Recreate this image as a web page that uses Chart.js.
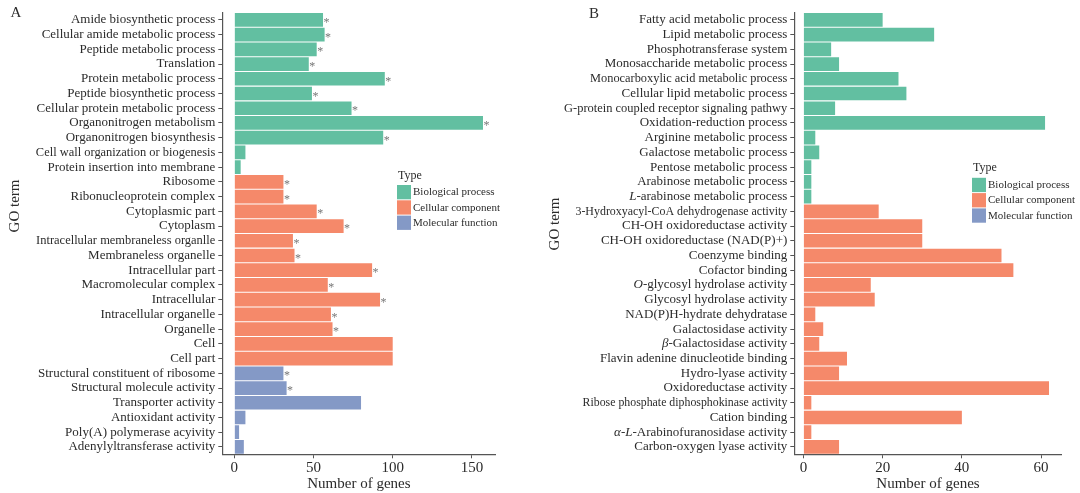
<!DOCTYPE html>
<html>
<head>
<meta charset="utf-8">
<script src="https://cdn.jsdelivr.net/npm/chart.js@4.4.1/dist/chart.umd.min.js"></script>
<style>
  html, body { margin: 0; padding: 0; background: #fff; }
  #wrap { position: relative; width: 1080px; height: 493px; }
  .panel { position: absolute; top: 0; width: 540px; height: 493px; }
  #panelA { left: 0; }
  #panelB { left: 540px; }
</style>
</head>
<body>
<div id="wrap">
  <div class="panel" id="panelA"><canvas id="chartA" width="540" height="493"></canvas></div>
  <div class="panel" id="panelB"><canvas id="chartB" width="540" height="493"></canvas></div>
</div>
<script>
// ---- data ----
const typeKeys = ['BP', 'CC', 'MF'];
const typeNames = ['Biological process', 'Cellular component', 'Molecular function'];

const termsA = [
  'Amide biosynthetic process', 'Cellular amide metabolic process', 'Peptide metabolic process',
  'Translation', 'Protein metabolic process', 'Peptide biosynthetic process',
  'Cellular protein metabolic process', 'Organonitrogen metabolism', 'Organonitrogen biosynthesis',
  'Cell wall organization or biogenesis', 'Protein insertion into membrane',
  'Ribosome', 'Ribonucleoprotein complex', 'Cytoplasmic part', 'Cytoplasm',
  'Intracellular membraneless organlle', 'Membraneless organelle', 'Intracellular part',
  'Macromolecular complex', 'Intracellular', 'Intracellular organelle', 'Organelle',
  'Cell', 'Cell part',
  'Structural constituent of ribosome', 'Structural molecule activity', 'Transporter activity',
  'Antioxidant activity', 'Poly(A) polymerase acyivity', 'Adenylyltransferase activity'
];
const countsA = [56, 57, 52, 47, 95, 49, 74, 157, 94, 7, 4,
  31, 31, 52, 69, 37, 38, 87, 59, 92, 61, 62, 100, 100,
  31, 33, 80, 7, 3, 6];
const typesA = ['BP', 'BP', 'BP', 'BP', 'BP', 'BP', 'BP', 'BP', 'BP', 'BP', 'BP',
  'CC', 'CC', 'CC', 'CC', 'CC', 'CC', 'CC', 'CC', 'CC', 'CC', 'CC', 'CC', 'CC',
  'MF', 'MF', 'MF', 'MF', 'MF', 'MF'];
const starsA = [1, 1, 1, 1, 1, 1, 1, 1, 1, 0, 0,
  1, 1, 1, 1, 1, 1, 1, 1, 1, 1, 1, 0, 0,
  1, 1, 0, 0, 0, 0];
const ticksA = [0, 50, 100, 150];

const termsB = [
  'Fatty acid metabolic process', 'Lipid metabolic process', 'Phosphotransferase system',
  'Monosaccharide metabolic process', 'Monocarboxylic acid metabolic process',
  'Cellular lipid metabolic process', 'G-protein coupled receptor signaling pathwy',
  'Oxidation-reduction process', 'Arginine metabolic process', 'Galactose metabolic process',
  'Pentose metabolic process', 'Arabinose metabolic process', 'L-arabinose metabolic process',
  '3-Hydroxyacyl-CoA dehydrogenase activity', 'CH-OH oxidoreductase activity',
  'CH-OH oxidoreductase (NAD(P)+)', 'Coenzyme binding', 'Cofactor binding',
  'O-glycosyl hydrolase activity', 'Glycosyl hydrolase activity', 'NAD(P)H-hydrate dehydratase',
  'Galactosidase activity', 'β-Galactosidase activity', 'Flavin adenine dinucleotide binding',
  'Hydro-lyase activity', 'Oxidoreductase activity', 'Ribose phosphate diphosphokinase activity',
  'Cation binding', 'α-L-Arabinofuranosidase activity', 'Carbon-oxygen lyase activity'
];
const countsB = [20, 33, 7, 9, 24, 26, 8, 61, 3, 4, 2, 2, 2,
  19, 30, 30, 50, 53, 17, 18, 3, 5, 4, 11, 9, 62, 2, 40, 2, 9];
const typesB = ['BP', 'BP', 'BP', 'BP', 'BP', 'BP', 'BP', 'BP', 'BP', 'BP', 'BP', 'BP', 'BP',
  'CC', 'CC', 'CC', 'CC', 'CC', 'CC', 'CC', 'CC', 'CC', 'CC', 'CC', 'CC', 'CC', 'CC', 'CC', 'CC', 'CC'];
const starsB = countsB.map(() => 0);
const ticksB = [0, 20, 40, 60];

// ---- styling ----
const typeColors = { BP: '#62BFA1', CC: '#F5896A', MF: '#8499C6' };
const ink = '#2b2b2b';
const axisInk = '#555555';
const serif = '"Liberation Serif", "Times New Roman", serif';

// some long labels are set horizontally condensed in the figure
const squeeze = {
  'Intracellular membraneless organlle': 0.96,
  'Cell wall organization or biogenesis': 0.957,
  'G-protein coupled receptor signaling pathwy': 0.957,
  'Monocarboxylic acid metabolic process': 0.95,
  '3-Hydroxyacyl-CoA dehydrogenase activity': 0.917,
  'Ribose phosphate diphosphokinase activity': 0.91
};

// italic prefixes like L-, O-, β-, α-L-
function labelRuns(text) {
  const m = text.match(/^(α-L|L|O|β)(-.*)$/);
  if (!m) return [[text, false]];
  if (m[1] === 'α-L') return [['α', true], ['-', false], ['L', true], [m[2], false]];
  return [[m[1], true], [m[2], false]];
}

const goLabels = {
  id: 'goLabels',
  afterDraw(chart, args, opts) {
    const { ctx } = chart;
    const ys = chart.scales.y;
    ctx.save();
    ctx.fillStyle = ink;
    ctx.textBaseline = 'middle';
    ctx.textAlign = 'left';
    chart.data.labels.forEach((lab, i) => {
      const runs = labelRuns(lab);
      const f = squeeze[lab] || 1;
      let w = 0;
      runs.forEach(r => {
        ctx.font = (r[1] ? 'italic ' : '') + opts.size + 'px ' + serif;
        w += ctx.measureText(r[0]).width;
      });
      ctx.save();
      ctx.translate(ys.right - opts.gap - w * f, ys.getPixelForValue(i));
      ctx.scale(f, 1);
      let x = 0;
      runs.forEach(r => {
        ctx.font = (r[1] ? 'italic ' : '') + opts.size + 'px ' + serif;
        ctx.fillText(r[0], x, 0);
        x += ctx.measureText(r[0]).width;
      });
      ctx.restore();
    });
    ctx.restore();
  }
};

const goDeco = {
  id: 'goDeco',
  afterDraw(chart, args, opts) {
    const { ctx } = chart;
    ctx.save();

    // significance marks
    const meta = chart.getDatasetMeta(0);
    ctx.fillStyle = '#777';
    ctx.font = '12px ' + serif;
    ctx.textBaseline = 'middle';
    ctx.textAlign = 'left';
    meta.data.forEach((bar, i) => {
      if (opts.stars[i]) ctx.fillText('*', bar.x + 0.5, bar.y + 3);
    });

    // panel letter
    ctx.fillStyle = ink;
    ctx.font = '15px ' + serif;
    ctx.textAlign = 'center';
    ctx.fillText(opts.letter, opts.letterX, opts.letterY);

    // y title
    ctx.save();
    ctx.translate(opts.titleX, opts.titleY);
    ctx.rotate(-Math.PI / 2);
    ctx.fillText('GO term', 0, 0);
    ctx.restore();

    // legend
    const L = opts.legend;
    ctx.textAlign = 'left';
    ctx.font = '12px ' + serif;
    ctx.fillText('Type', L.x + 1, L.y);
    typeKeys.forEach((k, i) => {
      const top = L.y + 9.5 + i * 15.3;
      ctx.fillStyle = typeColors[k];
      ctx.fillRect(L.x, top, 14, 14.3);
      ctx.fillStyle = ink;
      ctx.font = '11px ' + serif;
      ctx.fillText(typeNames[i], L.x + 16, top + 7.5);
    });
    ctx.restore();
  }
};

function makeChart(canvasId, terms, counts, types, stars, ticks, range, deco) {
  return new Chart(document.getElementById(canvasId), {
    type: 'bar',
    data: {
      labels: terms,
      datasets: [{
        data: counts,
        backgroundColor: types.map(t => typeColors[t]),
        borderWidth: 0,
        barPercentage: 0.93,
        categoryPercentage: 1
      }]
    },
    options: {
      indexAxis: 'y',
      responsive: false,
      animation: false,
      layout: { padding: { top: 12.5, right: deco.padRight, left: 0, bottom: 0 } },
      plugins: {
        legend: { display: false },
        tooltip: { enabled: false },
        goLabels: { size: 13, gap: 7 },
        goDeco: { ...deco, stars }
      },
      scales: {
        x: {
          type: 'linear',
          min: range[0],
          max: range[1],
          afterBuildTicks: s => { s.ticks = ticks.map(v => ({ value: v })); },
          afterFit: s => { s.height = 38.7; },
          grid: { drawOnChartArea: false, drawTicks: true, tickLength: 4, color: axisInk, lineWidth: 1 },
          border: { display: true, color: axisInk, width: 1.2 },
          ticks: { color: ink, font: { family: serif, size: 15 }, padding: 1, maxRotation: 0 },
          title: { display: true, text: 'Number of genes', color: ink, font: { family: serif, size: 15 }, padding: 0 }
        },
        y: {
          type: 'category',
          offset: true,
          afterFit: s => { s.width = deco.axisLeft; },
          grid: { offset: false, drawOnChartArea: false, drawTicks: true, tickLength: 4, color: axisInk, lineWidth: 1 },
          border: { display: true, color: axisInk, width: 1.2 },
          ticks: { display: false }
        }
      }
    },
    plugins: [goLabels, goDeco]
  });
}

makeChart('chartA', termsA, countsA, typesA, starsA, ticksA, [-7.6, 164.9], {
  axisLeft: 222.3, padRight: 44.5,
  letter: 'A', letterX: 16, letterY: 13,
  titleX: 15, titleY: 206,
  legend: { x: 397, y: 175.5 }
});

makeChart('chartB', termsB, countsB, typesB, starsB, ticksB, [-2.3, 65.2], {
  axisLeft: 254.3, padRight: 18.3,
  letter: 'B', letterX: 54, letterY: 14,
  titleX: 15, titleY: 224,
  legend: { x: 432, y: 168.3 }
});
</script>
</body>
</html>
